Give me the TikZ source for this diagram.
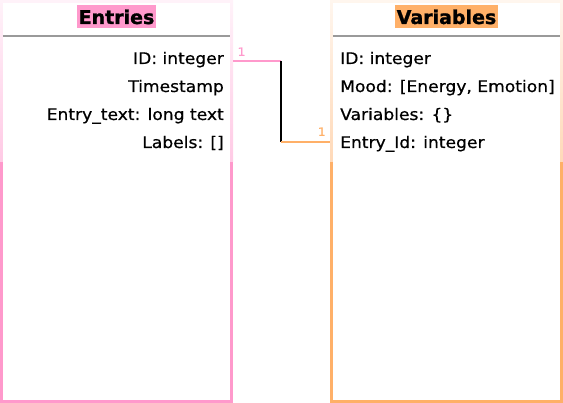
\documentclass[tikz,border=0pt]{standalone}
\usepackage{fontspec}
\setmainfont{DejaVu Sans}[FakeStretch=1.07, FakeBold=0.6]
\newfontfamily\headfont{DejaVu Sans Bold}[FakeStretch=1.0, FakeBold=1.2]
\definecolor{pinkc}{HTML}{FF99CC}
\definecolor{pinktop}{HTML}{FFF2F9}
\definecolor{pinkmid}{HTML}{FFCAE5}
\definecolor{orangec}{HTML}{FFB068}
\definecolor{orangetop}{HTML}{FFF6EE}
\definecolor{orangemid}{HTML}{FFD9B8}
\definecolor{sepgray}{HTML}{9A9A9A}
\tikzset{
  rowtxt/.style={inner sep=0pt, font=\fontsize{16}{19}\selectfont},
  headtxt/.style={inner xsep=1.5pt, inner ysep=0pt, text height=19pt, text depth=3.7pt,
    font=\headfont\fontsize{19}{22}\selectfont, anchor=base},
  numlbl/.style={inner sep=0pt, font=\fontsize{11.5}{13}\selectfont},
  boxname/.style={inner sep=0pt, minimum width=233pt, minimum height=403pt, anchor=north west},
  conn/.style={line width=2pt},
}
\begin{document}
\begin{tikzpicture}[x=1pt,y=-1pt]
\useasboundingbox (0,0) rectangle (563,403);
% Entries box
\shade[top color=pinktop, bottom color=pinkmid] (0,0) rectangle (233,162);
\fill[pinkc] (0,162) rectangle (233,403);
\fill[white] (2.8,3) rectangle (230.2,400);
\node[boxname] (entries) at (0,0) {};
\draw[sepgray, line width=1.1pt] (2.8,36) -- (230.2,36);
\node[headtxt, fill=pinkc] (entrieshead) at (116.5,24) {Entries};
\node[rowtxt, anchor=base east] (eid) at (224,64) {ID: integer};
\node[rowtxt, anchor=base east] (ets) at (224,92) {Timestamp};
\node[rowtxt, anchor=base east] (etext) at (224,120) {Entry\_text: long text};
\node[rowtxt, anchor=base east] (elab) at (224,148) {Labels: []};
% Variables box
\shade[top color=orangetop, bottom color=orangemid] (330,0) rectangle (563,162);
\fill[orangec] (330,162) rectangle (563,403);
\fill[white] (332.8,3) rectangle (560.2,400);
\node[boxname] (variables) at (330,0) {};
\draw[sepgray, line width=1.1pt] (332.8,36) -- (560.2,36);
\node[headtxt, fill=orangec] (varhead) at (446.5,24) {Variables};
\node[rowtxt, anchor=base west] (vid) at (340,64) {ID: integer};
\node[rowtxt, anchor=base west] (vmood) at (340,92) {Mood: [Energy, Emotion]};
\node[rowtxt, anchor=base west] (vvars) at (340,120) {Variables: \{\}};
\node[rowtxt, anchor=base west] (ventry) at (340,148) {Entry\_Id: integer};
% connector
\coordinate (bend1) at (281,61);
\coordinate (bend2) at (281,142.5);
\draw[conn, pinkc] (entries.east |- bend1) -- (bend1);
\draw[conn, black] (bend1) -- (bend2);
\draw[conn, orangec] (bend2) -- (variables.west |- bend2);
\node[numlbl, text=pinkc] (lbl1) at (241.5,51.7) {1};
\node[numlbl, text=orangec] (lbl2) at (321.7,131.7) {1};
\end{tikzpicture}
\end{document}
